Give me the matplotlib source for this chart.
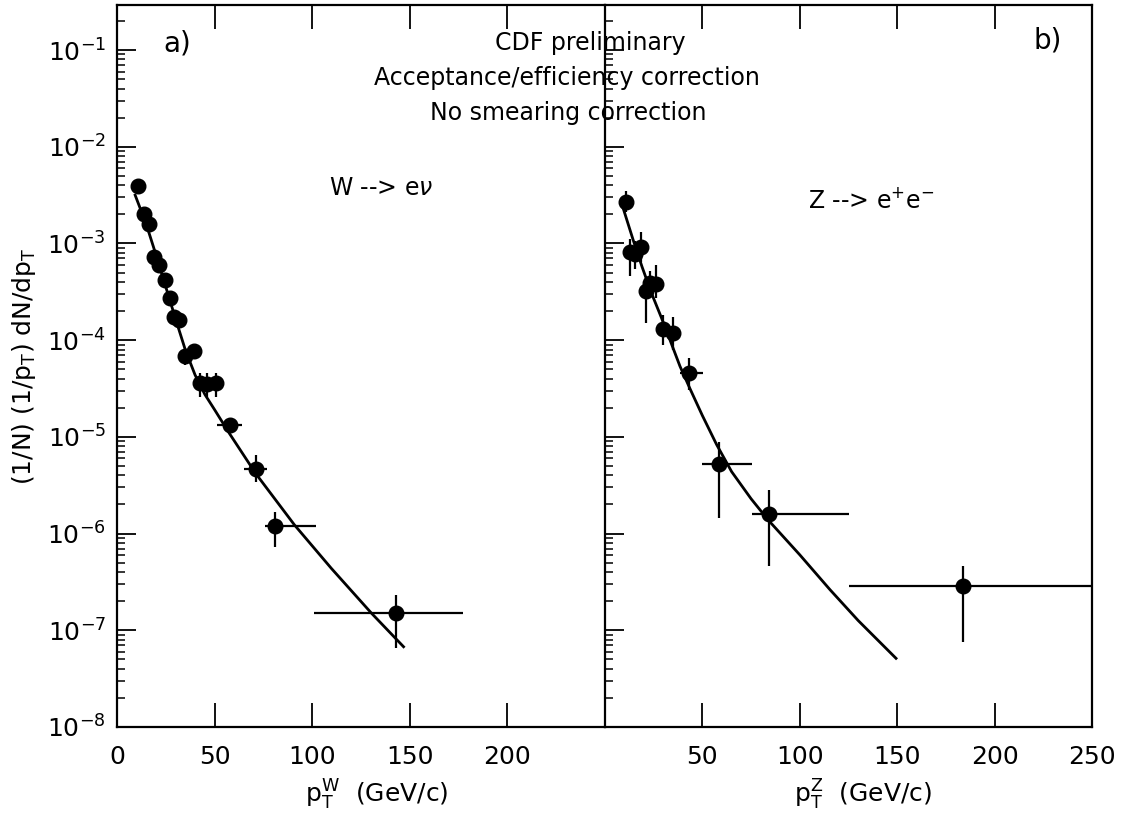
import numpy as np
import matplotlib
matplotlib.use("Agg")
import matplotlib.pyplot as plt
from matplotlib.ticker import LogLocator, NullFormatter

# W -> e nu, panel a)
w_x = [11, 14, 16.5, 18.7, 21.5, 24.5, 27, 29.4, 31.6, 35, 39.5, 42.5, 46.2, 50.5, 58, 71, 81, 143]
w_y = [3.9e-3, 2.0e-3, 1.6e-3, 7.3e-4, 6.0e-4, 4.2e-4, 2.7e-4, 1.75e-4, 1.6e-4,
       6.9e-5, 7.8e-5, 3.6e-5, 3.5e-5, 3.6e-5, 1.32e-5, 4.7e-6, 1.2e-6, 1.5e-7]
w_xlo = [1, 1, 1, 1, 1, 1, 1, 1, 1, 2.5, 2.5, 2.5, 2.5, 2.5, 6.6, 6, 5, 42]
w_xhi = [1, 1, 1, 1, 1, 1, 1, 1, 1, 2.5, 2.5, 2.5, 2.5, 2.5, 6.2, 6, 21, 34]
w_ylo = [3.5e-3, 1.8e-3, 1.45e-3, 6.6e-4, 5.4e-4, 3.8e-4, 2.4e-4, 1.55e-4, 1.4e-4,
         5.6e-5, 6.4e-5, 2.6e-5, 2.6e-5, 2.6e-5, 1.1e-5, 3.4e-6, 7.3e-7, 6.6e-8]
w_yhi = [4.3e-3, 2.2e-3, 1.75e-3, 8.0e-4, 6.6e-4, 4.6e-4, 3.0e-4, 1.95e-4, 1.8e-4,
         8.0e-5, 9.0e-5, 4.6e-5, 4.6e-5, 4.6e-5, 1.55e-5, 6.5e-6, 1.68e-6, 2.3e-7]
w_fit_x = [9.3, 15, 20, 25, 30, 35, 40, 45, 50, 57.4, 71.1, 90.9, 109.8, 130.4, 146.8]
w_fit_y = [3.16e-3, 1.58e-3, 7.59e-4, 3.55e-4, 1.66e-4, 7.94e-5, 4.37e-5, 2.75e-5,
           1.91e-5, 1.10e-5, 4.17e-6, 1.23e-6, 4.37e-7, 1.50e-7, 6.76e-8]

# Z -> e+ e-, panel b)
z_x = [11, 13, 15.5, 18.5, 21, 23, 26, 29.6, 35, 43, 58.5, 84, 184]
z_y = [2.7e-3, 8.2e-4, 7.8e-4, 9.2e-4, 3.2e-4, 3.9e-4, 3.8e-4, 1.32e-4, 1.2e-4,
       4.6e-5, 5.3e-6, 1.6e-6, 2.9e-7]
z_xlo = [1.5, 1.5, 1.5, 1.5, 1.5, 1.5, 1.5, 1.5, 1.5, 4.3, 8.9, 8.7, 59]
z_xhi = [1.5, 1.5, 1.5, 1.5, 1.5, 1.5, 1.5, 1.5, 1.5, 7.3, 16.8, 41.3, 66]
z_ylo = [2.1e-3, 4.6e-4, 5.5e-4, 6.5e-4, 1.5e-4, 2.8e-4, 2.7e-4, 9e-5, 8e-5,
         3.05e-5, 1.45e-6, 4.6e-7, 7.6e-8]
z_yhi = [3.5e-3, 1.1e-3, 1.05e-3, 1.3e-3, 4.2e-4, 5.2e-4, 6.0e-4, 1.8e-4, 1.75e-4,
         6.5e-5, 8.9e-6, 2.8e-6, 4.6e-7]
z_fit_x = [9.4, 14.5, 19, 23.9, 29, 33.4, 38.5, 43.6, 50, 57.3, 65, 75, 83.8,
           100, 115.5, 130, 149.4]
z_fit_y = [2.29e-3, 1.08e-3, 5.75e-4, 3.05e-4, 1.70e-4, 1.0e-4, 5.37e-5, 3.16e-5,
           1.66e-5, 8.32e-6, 4.37e-6, 2.29e-6, 1.38e-6, 6.03e-7, 2.63e-7, 1.26e-7, 5.13e-8]

y_ticks = [1e-8, 1e-7, 1e-6, 1e-5, 1e-4, 1e-3, 1e-2, 1e-1]
x_ticks = [0, 50, 100, 150, 200, 250]
xa_labels = ['0', '50', '100', '150', '200', '']
xb_labels = ['', '50', '100', '150', '200', '250']

W_PX, H_PX = 1126, 827
fig = plt.figure(figsize=(W_PX / 100, H_PX / 100), dpi=100)
plt.rcParams['font.family'] = ['DejaVu Sans']
FS = 17

left, mid, right = 117, 605, 1092
top, bottom = 5, 727
axa = fig.add_axes([left / W_PX, 1 - bottom / H_PX, (mid - left) / W_PX, (bottom - top) / H_PX])
axb = fig.add_axes([mid / W_PX, 1 - bottom / H_PX, (right - mid) / W_PX, (bottom - top) / H_PX])


def draw(ax, x, y, xlo, xhi, ylo, yhi, fx, fy):
    x = np.array(x); y = np.array(y)
    yerr = [y - np.array(ylo), np.array(yhi) - y]
    ax.errorbar(x, y, xerr=[xlo, xhi], yerr=yerr, fmt='o', color='black',
                ms=10.5, elinewidth=1.6, capsize=0)
    ax.plot(fx, fy, color='black', lw=2)
    ax.set_yscale('log')
    ax.set_xlim(0, 250)
    ax.set_ylim(1e-8, 10 ** (-0.534))
    ax.set_yticks(y_ticks)
    ax.yaxis.set_minor_locator(LogLocator(base=10, subs=np.arange(2, 10), numticks=100))
    ax.yaxis.set_minor_formatter(NullFormatter())
    ax.tick_params(axis='x', which='major', direction='in', length=17, width=1.3,
                   top=True, bottom=True, labelsize=FS + 1, pad=13)
    ax.tick_params(axis='y', which='major', direction='in', length=14, width=1.3,
                   left=True, right=False, labelsize=FS + 1, pad=8)
    ax.tick_params(axis='y', which='minor', direction='in', length=6, width=1.1,
                   left=True, right=False)
    for s in ax.spines.values():
        s.set_linewidth(1.6)


draw(axa, w_x, w_y, w_xlo, w_xhi, w_ylo, w_yhi, w_fit_x, w_fit_y)
draw(axb, z_x, z_y, z_xlo, z_xhi, z_ylo, z_yhi, z_fit_x, z_fit_y)

axa.spines['right'].set_visible(False)
axa.set_xticks(x_ticks)
axa.set_xticklabels(xa_labels)
axb.set_xticks(x_ticks)
axb.set_xticklabels(xb_labels)
axb.tick_params(axis='y', which='both', labelleft=False)

axa.text(0.123, 0.947, 'a)', transform=axa.transAxes, fontsize=FS + 3, ha='center', va='center')
axb.text(0.91, 0.951, 'b)', transform=axb.transAxes, fontsize=FS + 3, ha='center', va='center')


def ftext(px, py, s, fs=FS, **kw):
    fig.text(px / W_PX, 1 - py / H_PX, s, ha='center', va='center', fontsize=fs, **kw)


ftext(590, 43, 'CDF preliminary')
ftext(567, 78, 'Acceptance/efficiency correction')
ftext(568, 113, 'No smearing correction')
ftext(381, 188, r'W --> e$\nu$')
ftext(871, 200, r'Z --> e$^{+}$e$^{-}$')
ftext(24, 366, r'(1/N) (1/$\mathrm{p_T}$) dN/d$\mathrm{p_T}$', fs=FS + 1, rotation=90)
ftext(377, 795, r'$\mathrm{p_T^W}$  (GeV/c)', fs=FS + 1)
ftext(863, 795, r'$\mathrm{p_T^Z}$  (GeV/c)', fs=FS + 1)

fig.savefig('out.png', dpi=100)
